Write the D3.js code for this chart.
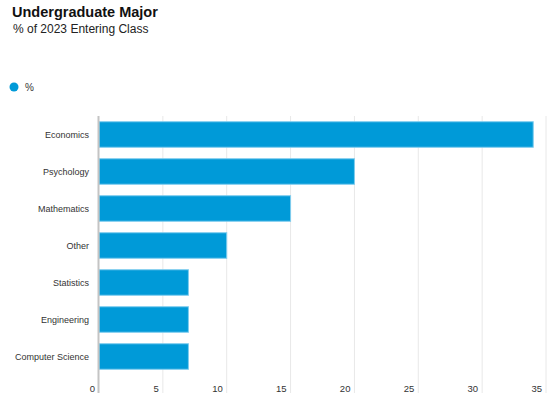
<!DOCTYPE html>
<html>
<head>
<meta charset="utf-8">
<script src="https://cdn.jsdelivr.net/npm/d3@7"></script>
<style>
  body { margin: 0; background: #fff; }
  svg text { font-family: "Liberation Sans", Arial, sans-serif; }
</style>
</head>
<body>
<div id="chart"></div>
<script>
var majors = ["Economics", "Psychology", "Mathematics", "Other", "Statistics", "Engineering", "Computer Science"];
var pct = [34, 20, 15, 10, 7, 7, 7];
var xTicks = [0, 5, 10, 15, 20, 25, 30, 35];

var w = 559, h = 397;
var svg = d3.select("#chart").append("svg").attr("width", w).attr("height", h);

var x = d3.scaleLinear().domain([0, 35]).range([99, 546]);
var y = d3.scaleBand().domain(majors).range([116, 375]).paddingInner(0.31).paddingOuter(0.155);

// title
svg.append("text").attr("x", 12).attr("y", 17)
  .attr("font-size", "14.5px").attr("font-weight", "bold").attr("fill", "#111")
  .text("Undergraduate Major");
svg.append("text").attr("x", 13).attr("y", 33)
  .attr("font-size", "12px").attr("fill", "#222")
  .text("% of 2023 Entering Class");

// legend
svg.append("circle").attr("cx", 14).attr("cy", 87).attr("r", 4.5).attr("fill", "#009ad8");
svg.append("text").attr("x", 25).attr("y", 90.5).attr("font-size", "10px").attr("fill", "#333").text("%");

// grid
svg.selectAll("line.grid")
  .data(xTicks.slice(1))
  .enter()
  .append("line")
  .attr("class", "grid")
  .attr("x1", function (d) { return x(d); })
  .attr("x2", function (d) { return x(d); })
  .attr("y1", 116)
  .attr("y2", 393)
  .attr("stroke", "#e8e8e8")
  .attr("stroke-width", 1);

svg.selectAll("text.xt")
  .data(xTicks)
  .enter()
  .append("text")
  .attr("class", "xt")
  .attr("x", function (d) { return x(d) - 4; })
  .attr("y", 392)
  .attr("text-anchor", "end")
  .attr("font-size", "9.5px")
  .attr("fill", "#333")
  .text(function (d) { return d; });

// bars
svg.selectAll("rect")
  .data(pct)
  .enter()
  .append("rect")
  .attr("x", x(0))
  .attr("y", function (d, i) { return y(majors[i]); })
  .attr("width", function (d) { return x(d) - x(0); })
  .attr("height", y.bandwidth())
  .attr("fill", "#009ad8")
  .attr("stroke", "#7fcdee")
  .attr("stroke-width", 1);

// zero line
svg.append("line")
  .attr("x1", x(0) - 0.5).attr("x2", x(0) - 0.5)
  .attr("y1", 116).attr("y2", 393)
  .attr("stroke", "#c4c4c4").attr("stroke-width", 2);

svg.selectAll("text.cat")
  .data(majors)
  .enter()
  .append("text")
  .attr("class", "cat")
  .attr("x", 89)
  .attr("y", function (d) { return y(d) + y.bandwidth() / 2; })
  .attr("dy", "0.35em")
  .attr("text-anchor", "end")
  .attr("font-size", "9px")
  .attr("fill", "#333")
  .text(function (d) { return d; });
</script>
</body>
</html>
